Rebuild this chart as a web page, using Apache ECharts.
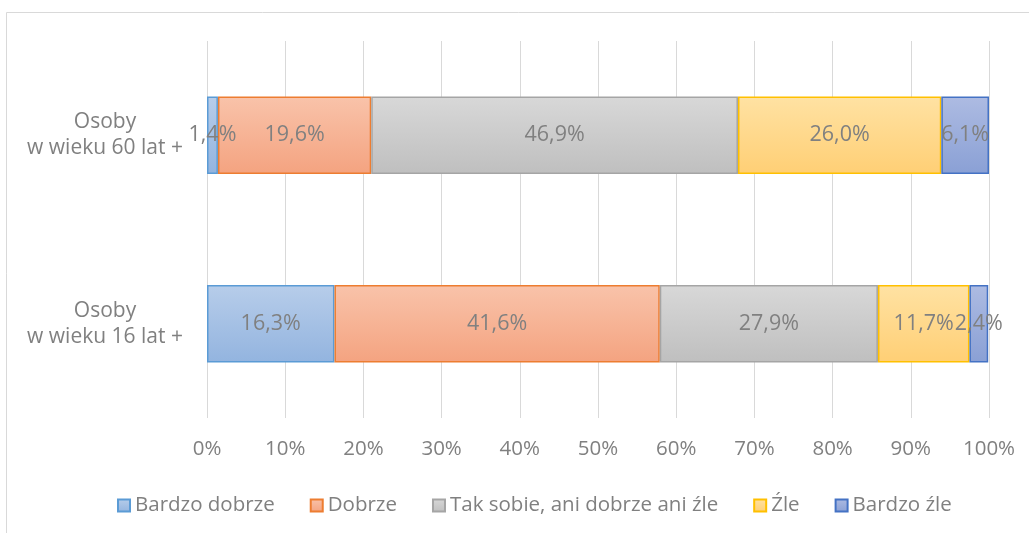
<!DOCTYPE html>
<html>
<head>
<meta charset="utf-8">
<script src="https://cdn.jsdelivr.net/npm/echarts@6/dist/echarts.min.js"></script>
<style>html,body{margin:0;padding:0;background:#fff;}#c{width:1029px;height:533px;}</style>
</head>
<body>
<div id="c"></div>
<script>
const categories = ['Osoby\nw wieku 16 lat +', 'Osoby\nw wieku 60 lat +'];
const seriesNames = ['Bardzo dobrze', 'Dobrze', 'Tak sobie, ani dobrze ani źle', 'Źle', 'Bardzo źle'];
const bardzoDobrze = [16.3, 1.4];
const dobrze = [41.6, 19.6];
const takSobie = [27.9, 46.9];
const zle = [11.7, 26.0];
const bardzoZle = [2.4, 6.1];
const xTicks = [0, 10, 20, 30, 40, 50, 60, 70, 80, 90, 100];

const values = [bardzoDobrze, dobrze, takSobie, zle, bardzoZle];
const fills = [
  ['#b7cdea', '#93b4df', '#5b9bd5'],
  ['#f9c3aa', '#f4a380', '#ed7d31'],
  ['#d8d8d8', '#bfbfbf', '#a5a5a5'],
  ['#ffe2a3', '#ffcf75', '#ffc000'],
  ['#adbbe2', '#8aa0d5', '#4472c4']
];
const FONT = '"Open Sans", sans-serif';
const GRAY = '#808080';

const chart = echarts.init(document.getElementById('c'), null, {renderer: 'canvas'});
chart.setOption({
  animation: false,
  backgroundColor: '#fff',
  graphic: [{
    type: 'rect', silent: true,
    shape: {x: 6.5, y: 12.5, width: 1100, height: 600},
    style: {fill: 'none', stroke: '#d9d9d9', lineWidth: 1}
  }],
  grid: {left: 207, right: 40, top: 41, bottom: 115, containLabel: false},
  legend: {
    top: 490, left: 112,
    itemWidth: 12, itemHeight: 12, itemGap: 35,
    icon: 'rect',
    textStyle: {color: GRAY, fontSize: 20.5, fontFamily: FONT},
    data: seriesNames
  },
  xAxis: {
    type: 'value', min: 0, max: 100, interval: 10,
    axisLine: {show: false}, axisTick: {show: false},
    splitLine: {lineStyle: {color: '#d9d9d9', width: 1}},
    axisLabel: {
      color: GRAY, fontSize: 20.5, fontFamily: FONT, margin: 21,
      formatter: v => xTicks.includes(v) ? v + '%' : ''
    }
  },
  yAxis: {
    type: 'category', data: categories,
    axisLine: {show: false}, axisTick: {show: false},
    axisLabel: {
      color: GRAY, fontSize: 21, fontFamily: FONT, align: 'center',
      margin: 102, lineHeight: 26
    }
  },
  series: seriesNames.map((name, i) => ({
    name, type: 'bar', stack: 'total', barWidth: '41%',
    data: values[i],
    itemStyle: {
      color: new echarts.graphic.LinearGradient(0, 0, 0, 1, [
        {offset: 0, color: fills[i][0]}, {offset: 1, color: fills[i][1]}
      ]),
      borderColor: fills[i][2], borderWidth: 1.5
    },
    label: {
      show: true, position: 'inside', color: GRAY, fontSize: 21.5, fontFamily: FONT,
      formatter: p => p.value.toFixed(1).replace('.', ',') + '%'
    },
    emphasis: {disabled: true}
  }))
});
</script>
</body>
</html>
